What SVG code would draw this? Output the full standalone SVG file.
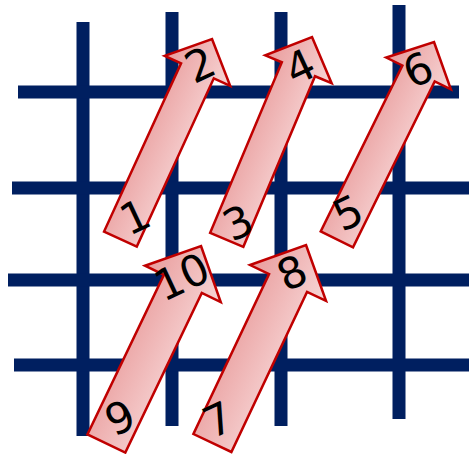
<svg xmlns="http://www.w3.org/2000/svg" width="469" height="454" viewBox="0 0 469 454">
<style>
.g{stroke:#001f60;stroke-width:13;stroke-linecap:butt}
.a{fill:url(#pk);stroke:#c00000;stroke-width:2.5;stroke-linejoin:miter}
.t{font-family:"DejaVu Sans",sans-serif;font-size:43px;fill:#000;text-anchor:middle}
</style>
<defs>
<linearGradient id="pk" x1="0" y1="0" x2="1" y2="0">
<stop offset="0" stop-color="#e99c9c"/>
<stop offset="1" stop-color="#f7d6d6"/>
</linearGradient>
<polygon id="ar" points="0,0 36,35 18,35 18,220 -18,220 -18,35 -36,35"/>
<polygon id="arb" points="0,0 42,42 21,42 21,219 -21,219 -21,42 -42,42"/>
</defs>
<g id="grid">
<line class="g" x1="83" y1="22" x2="83" y2="436"/>
<line class="g" x1="172" y1="12" x2="172" y2="426"/>
<line class="g" x1="281" y1="12" x2="281" y2="426"/>
<line class="g" x1="399" y1="5" x2="399" y2="419"/>
<line class="g" x1="18" y1="92" x2="459" y2="92"/>
<line class="g" x1="12" y1="188" x2="469" y2="188"/>
<line class="g" x1="8" y1="280" x2="469" y2="280"/>
<line class="g" x1="14" y1="365" x2="469" y2="365"/>
</g>
<g id="connectors"></g>
<g id="arrow12">
<use href="#ar" class="a" transform="translate(212,39) rotate(24.6)"/>
<text class="t" transform="translate(135,217) rotate(-25)" y="15">1</text>
<text class="t" transform="translate(200,65) rotate(-25)" y="15">2</text>
</g>
<g id="arrow34">
<use href="#ar" class="a" transform="translate(312,37) rotate(22.8)"/>
<text class="t" transform="translate(238,223) rotate(-25)" y="15">3</text>
<text class="t" transform="translate(300,67) rotate(-25)" y="15">4</text>
</g>
<g id="arrow56">
<use href="#ar" class="a" transform="translate(434,42) rotate(26.2)"/>
<text class="t" transform="translate(348,213) rotate(-25)" y="15">5</text>
<text class="t" transform="translate(418,70) rotate(-25)" y="15">6</text>
</g>
<g id="arrow910">
<use href="#arb" class="a" transform="translate(201,246) rotate(25.6)"/>
<text class="t" transform="translate(120,418) rotate(-25)" y="15">9</text>
<text class="t" transform="translate(182,277) rotate(-25)" y="15">10</text>
</g>
<g id="arrow78">
<use href="#arb" class="a" transform="translate(306,245) rotate(25.3)"/>
<text class="t" transform="translate(218,420) rotate(-25)" y="15">7</text>
<text class="t" transform="translate(292,273) rotate(-25)" y="15">8</text>
</g>
</svg>
